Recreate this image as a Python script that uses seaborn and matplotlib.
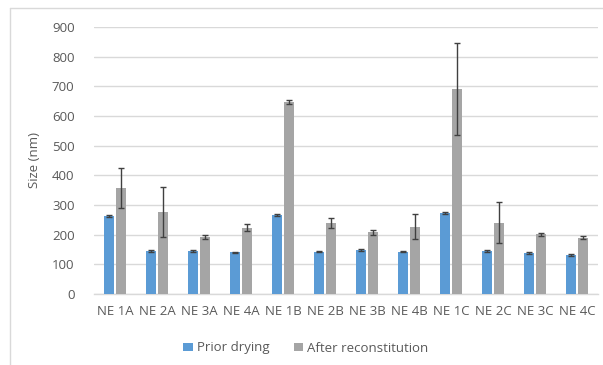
import numpy as np
import pandas as pd
import matplotlib
matplotlib.use("Agg")
import matplotlib.pyplot as plt
import seaborn as sns
from matplotlib.lines import Line2D

categories = ["NE 1A", "NE 2A", "NE 3A", "NE 4A", "NE 1B", "NE 2B",
              "NE 3B", "NE 4B", "NE 1C", "NE 2C", "NE 3C", "NE 4C"]
prior = [263, 146, 146, 140, 266, 143, 148, 143, 272, 144, 139, 131]
prior_err = [4, 3, 3, 3, 4, 3, 3, 3, 4, 3, 3, 3]
after = [358, 277, 192, 224, 647, 239, 208, 226, 691, 240, 201, 190]
after_err = [67, 85, 7, 13, 8, 18, 9, 42, 155, 69, 6, 6]
series = ["Prior drying", "After reconstitution"]
colors = ["#5B9BD5", "#A5A5A5"]

df = pd.DataFrame({
    "cat": categories * 2,
    "series": [series[0]] * len(categories) + [series[1]] * len(categories),
    "val": prior + after,
    "err": prior_err + after_err,
})

sns.set_theme(style="white")
plt.rcParams["font.family"] = ["Open Sans", "DejaVu Sans"]

fig = plt.figure(figsize=(6.03, 3.65), dpi=100)
ax = fig.add_axes([94 / 603, 1 - 294 / 365, 504 / 603, (294 - 27) / 365])

sns.barplot(data=df, x="cat", y="val", hue="series", order=categories,
            hue_order=series, palette=colors, errorbar=None, width=0.6,
            gap=0.18, saturation=1, linewidth=0, ax=ax, legend=True, zorder=3)

# error bars positioned on bars
n = len(categories)
patches = [p for p in ax.patches if p.get_height() > 0][:2 * n]
for i, p in enumerate(patches):
    xc = p.get_x() + p.get_width() / 2
    h = p.get_height()
    e = df["err"].iloc[i]
    ax.errorbar(xc, h, yerr=e, fmt="none", ecolor="#404040", elinewidth=1.0,
                capsize=2.5, capthick=1.0, zorder=4)

ax.set_ylim(0, 900)
ax.set_yticks(range(0, 901, 100))
ax.set_xlim(-0.5, n - 0.5)
ax.yaxis.grid(True, color="#D9D9D9", linewidth=1.0, zorder=0)
ax.set_axisbelow(True)
for s in ["top", "right", "left"]:
    ax.spines[s].set_visible(False)
ax.spines["bottom"].set_color("#D9D9D9")
ax.spines["bottom"].set_linewidth(1.0)
ax.tick_params(axis="both", length=0, labelsize=9.5, colors="#595959", pad=8)
ax.tick_params(axis="y", pad=14)
ax.set_xlabel("")
ax.set_ylabel("Size (nm)", fontsize=9.5, color="#595959", labelpad=8)

leg = ax.legend(loc="center", bbox_to_anchor=(306 / 603, 1 - 348 / 365),
                bbox_transform=fig.transFigure, ncol=2, frameon=False,
                fontsize=9.5, handlelength=0.7, handleheight=0.55,
                handletextpad=0.35, columnspacing=1.8)
for t in leg.get_texts():
    t.set_color("#595959")

# chart area border (partially visible)
fig.add_artist(Line2D([10 / 603, 10 / 603], [0, 1 - 8 / 365], color="#D9D9D9",
                      linewidth=1.0, transform=fig.transFigure))
fig.add_artist(Line2D([10 / 603, 1], [1 - 8 / 365, 1 - 8 / 365], color="#D9D9D9",
                      linewidth=1.0, transform=fig.transFigure))

fig.savefig("out.png", dpi=100)
